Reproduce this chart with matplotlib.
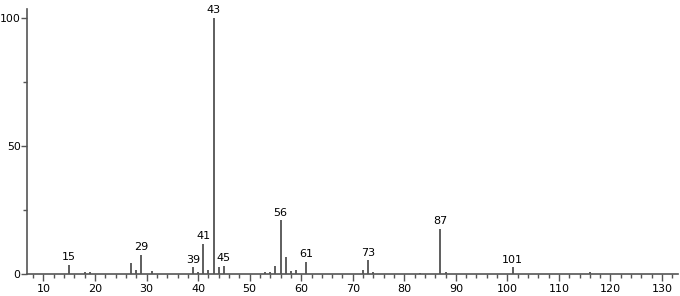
import numpy as np
import matplotlib
matplotlib.use("Agg")
import matplotlib.pyplot as plt
from matplotlib.ticker import MultipleLocator

# m/z and relative intensity
mz = [15, 18, 19, 27, 28, 29, 31, 39, 40, 41, 42, 43, 44, 45,
      53, 54, 55, 56, 57, 58, 59, 61, 72, 73, 74, 83, 87, 88, 101, 116]
inten = [3.5, 0.8, 0.6, 4.4, 1.7, 7.4, 1.0, 2.6, 0.7, 11.7, 1.7, 100, 2.9, 3.2,
         0.6, 0.9, 3.2, 21.0, 6.8, 1.0, 1.5, 4.7, 1.5, 5.3, 0.7, 0.5, 17.6, 0.9, 2.7, 0.6]
labelled = [15, 29, 39, 41, 43, 45, 56, 61, 73, 87, 101]

plt.rcParams['font.family'] = ['DejaVu Sans']

fig = plt.figure(figsize=(6.8, 2.96), dpi=100)
ax = fig.add_axes([27/680, 22/296, 651/680, 265/296])

ax.vlines(mz, 0, inten, color='#333333', linewidth=1.1)
for m, v in zip(mz, inten):
    if m in labelled:
        ax.text(m, v + 1.0, str(m), ha='center', va='bottom', fontsize=8, color='black')

ax.set_xlim(6.8, 133.1)
ax.set_ylim(0, 103.5)
ax.xaxis.set_major_locator(MultipleLocator(10))
ax.xaxis.set_minor_locator(MultipleLocator(2))
ax.yaxis.set_major_locator(MultipleLocator(50))
ax.yaxis.set_minor_locator(MultipleLocator(25))
ax.set_xticks(np.arange(10, 131, 10))

for s in ['top', 'right']:
    ax.spines[s].set_visible(False)
for s in ['left', 'bottom']:
    ax.spines[s].set_color('#555555')
    ax.spines[s].set_linewidth(1.2)

ax.tick_params(axis='x', which='major', length=5, width=1, color='#555555',
               labelsize=8, pad=2)
ax.tick_params(axis='y', which='major', length=4, width=1, color='#555555',
               labelsize=7.8, pad=0.5)
ax.tick_params(axis='both', which='minor', length=3, width=1, color='#555555')

fig.savefig('out.png', dpi=100)
